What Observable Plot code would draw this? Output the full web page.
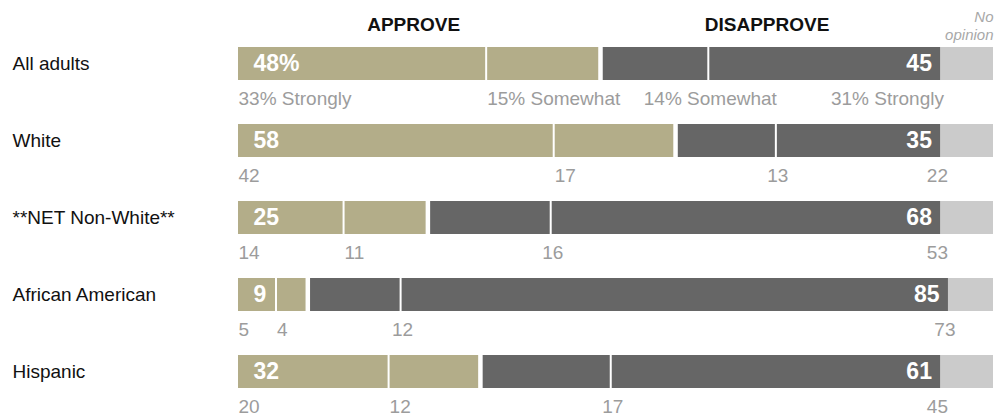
<!DOCTYPE html>
<html>
<head>
<meta charset="utf-8">
<script src="https://cdn.jsdelivr.net/npm/d3@7"></script>
<script src="https://cdn.jsdelivr.net/npm/@observablehq/plot@0.6"></script>
<style>
  html, body { margin: 0; padding: 0; background: #fff; }
  #chart svg { display: block; }
</style>
</head>
<body>
<div id="chart"></div>
<script>
const categories = ["All adults", "White", "**NET Non-White**", "African American", "Hispanic"];
const approve = [48, 58, 25, 9, 32];
const approveStrongly = [33, 42, 14, 5, 20];
const approveSomewhat = [15, 17, 11, 4, 12];
const disapprove = [45, 35, 68, 85, 61];
const disapproveSomewhat = [14, 13, 16, 12, 17];
const disapproveStrongly = [31, 22, 53, 73, 45];
const noOpinion = [7, 7, 7, 6, 7];
const GAP = 0.6;

const TAN = "#b3ad89", DARK = "#666666", LIGHT = "#cbcbcb", SUB = "#9c9c9c";
const FONT = "'Liberation Sans', Arial, Helvetica, sans-serif";

const rows = categories.map((c, i) => {
  const A = approve[i], D = disapprove[i];
  return {
    c, i, A, D,
    sA: approveStrongly[i], wA: approveSomewhat[i],
    wD: disapproveSomewhat[i], sD: disapproveStrongly[i],
    no: noOpinion[i],
    dStart: A + GAP, dEnd: A + GAP + D
  };
});

const segs = [];
rows.forEach(r => {
  segs.push({c: r.c, x1: 0, x2: r.A, fill: TAN});
  segs.push({c: r.c, x1: r.dStart, x2: r.dEnd, fill: DARK});
  segs.push({c: r.c, x1: r.dEnd, x2: r.dEnd + r.no, fill: LIGHT});
});
const seps = [];
rows.forEach(r => {
  seps.push({c: r.c, x: r.sA});
  seps.push({c: r.c, x: r.dStart + r.wD});
});

const first = rows[0];
const SUBDY = 35;

const chart = Plot.plot({
  width: 1003,
  height: 416,
  marginLeft: 238,
  marginRight: 10,
  marginTop: 47,
  marginBottom: 27.5,
  style: {fontFamily: FONT, fontSize: "19px", background: "#fff"},
  x: {domain: [0, 100 + GAP], axis: null},
  y: {domain: categories, axis: null, paddingInner: 0.565, paddingOuter: 0},
  marks: [
    Plot.barX(segs, {x1: "x1", x2: "x2", y: "c", fill: "fill"}),
    Plot.tickX(seps, {x: "x", y: "c", stroke: "#fff", strokeWidth: 2}),
    // in-bar totals
    Plot.text(rows, {x: 0, y: "c", text: d => d.i === 0 ? d.A + "%" : String(d.A),
      textAnchor: "start", dx: 15, fill: "#fff", fontWeight: "bold", fontSize: 23}),
    Plot.text(rows, {x: "dEnd", y: "c", text: d => String(d.D),
      textAnchor: "end", dx: -9, fill: "#fff", fontWeight: "bold", fontSize: 23}),
    // sub labels
    Plot.text(rows, {x: 0, y: "c", text: d => d.i === 0 ? d.sA + "% Strongly" : String(d.sA),
      textAnchor: "start", dy: SUBDY, fill: SUB}),
    Plot.text(rows, {x: "sA", y: "c", text: d => d.i === 0 ? d.wA + "% Somewhat" : String(d.wA),
      textAnchor: "start", dx: 1, dy: SUBDY, fill: SUB}),
    Plot.text(rows, {x: d => d.dStart + d.wD, y: "c", text: d => d.i === 0 ? d.wD + "% Somewhat" : String(d.wD),
      textAnchor: "middle", dx: 2, dy: SUBDY, fill: SUB}),
    Plot.text(rows.filter(d => d.i === 0), {x: "dEnd", y: "c", text: d => d.sD + "% Strongly",
      textAnchor: "end", dx: 3, dy: SUBDY, fill: SUB}),
    Plot.text(rows.filter(d => d.i !== 0), {x: "dEnd", y: "c", text: d => String(d.sD),
      textAnchor: "end", dx: 7, dy: SUBDY, fill: SUB}),
    // row labels
    Plot.text(categories, {y: d => d, frameAnchor: "left", dx: -226, textAnchor: "start", fill: "#111"}),
    // headers
    Plot.text([first], {x: d => d.A / 2, frameAnchor: "top", text: ["APPROVE"], dx: -5, dy: -17,
      lineAnchor: "bottom", fontWeight: "bold", fill: "#111"}),
    Plot.text([first], {x: d => d.dStart + d.D / 2, frameAnchor: "top", text: ["DISAPPROVE"], dx: -5, dy: -17,
      lineAnchor: "bottom", fontWeight: "bold", fill: "#111"}),
    Plot.text([first], {x: d => d.dEnd + d.no, frameAnchor: "top", text: ["No\nopinion"], dy: -8,
      lineAnchor: "bottom", textAnchor: "end", fontStyle: "italic", fontSize: 15, lineHeight: 1.2, fill: "#a8a8a8"})
  ]
});
document.getElementById("chart").appendChild(chart);
</script>
</body>
</html>
